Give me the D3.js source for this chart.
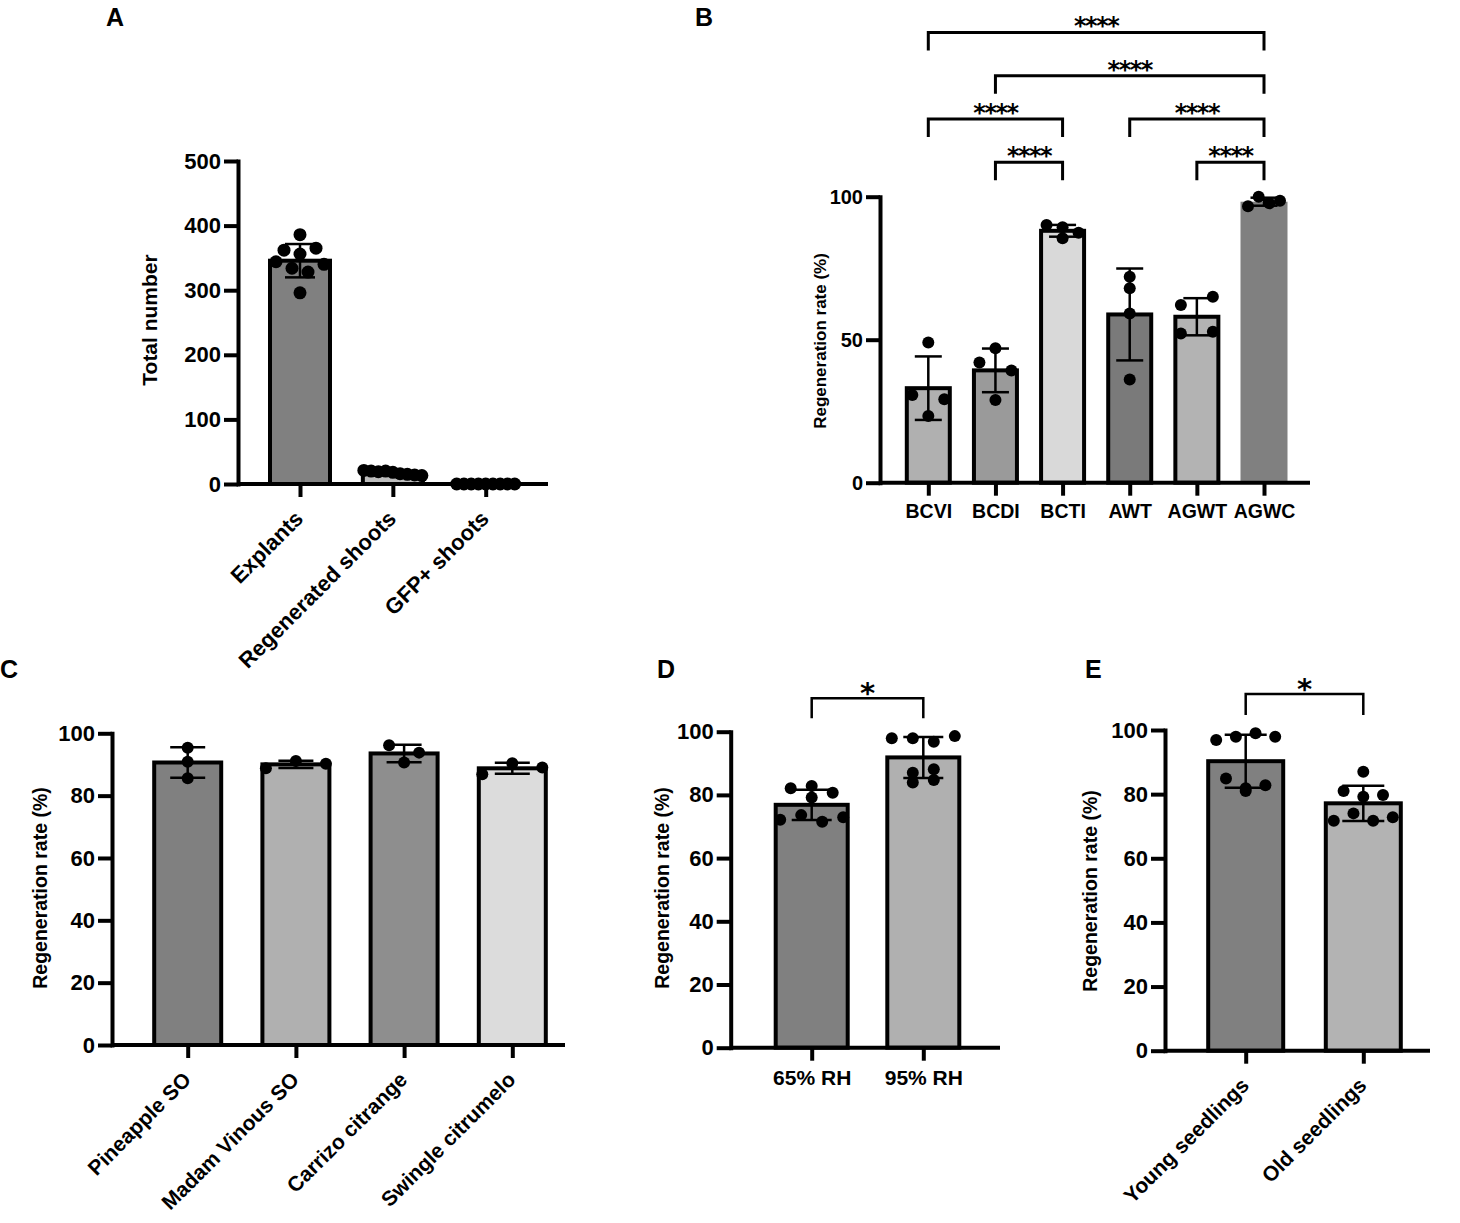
<!DOCTYPE html>
<html>
<head>
<meta charset="utf-8">
<script src="https://cdn.jsdelivr.net/npm/d3@7"></script>
<style>
  body { margin: 0; background: #fff; }
  text { font-family: "Liberation Sans", Arial, sans-serif; }
</style>
</head>
<body>
<div id="fig"></div>
<script>
// panel A - totals
var aCats = ["Explants", "Regenerated shoots", "GFP+ shoots"];
var aExplants = [386, 362, 356, 365, 344, 334, 328, 340, 296];
var aRegenerated = [21, 20, 19, 20, 18, 16, 15, 14, 13];
var aGfp = [0, 0, 0, 0, 0, 0, 0, 0, 0];
var aTicks = [0, 100, 200, 300, 400, 500];

// panel B - treatments
var bCats = ["BCVI", "BCDI", "BCTI", "AWT", "AGWT", "AGWC"];
var bBCVI = [49, 30.7, 29.2, 23.3];
var bBCDI = [47, 42, 39.2, 28.9];
var bBCTI = [90.1, 89.3, 87.4, 85.5];
var bAWT = [72, 68, 59.2, 36.1];
var bAGWT = [62.1, 65, 52.2, 52.8];
var bAGWC = [96.7, 100, 97.7, 98.6];
var bTicks = [0, 50, 100];
var bComparisons = [
  ["BCDI", "BCTI", "****"],
  ["AGWT", "AGWC", "****"],
  ["BCVI", "BCTI", "****"],
  ["AWT", "AGWC", "****"],
  ["BCDI", "AGWC", "****"],
  ["BCVI", "AGWC", "****"]
];

// panel C - genotypes
var cCats = ["Pineapple SO", "Madam Vinous SO", "Carrizo citrange", "Swingle citrumelo"];
var cPineapple = [95.4, 90.9, 85.6];
var cMadam = [88.8, 91.1, 90.2];
var cCarrizo = [96.2, 93.8, 90.6];
var cSwingle = [86.9, 90.4, 89];

// panel D - humidity
var dCats = ["65% RH", "95% RH"];
var d65 = [82.1, 82.8, 80.7, 79.2, 72.1, 73.6, 71.5, 72.9];
var d95 = [97.9, 97.9, 96.8, 98.6, 87, 88.1, 83.9, 84.7];
var dComparisons = [["65% RH", "95% RH", "*"]];

// panel E - seedling age
var eCats = ["Young seedlings", "Old seedlings"];
var eYoung = [96.9, 97.9, 99, 97.9, 84.9, 81, 81.8, 82.8];
var eOld = [87, 81, 79.2, 79.7, 71.7, 74, 71.7, 72.8];
var eComparisons = [["Young seedlings", "Old seedlings", "*"]];

var pctTicks = [0, 20, 40, 60, 80, 100];

var svg = d3.select("#fig").append("svg")
    .attr("width", 1460)
    .attr("height", 1223);

// spread points of one group sideways, graphpad style (rows of similar values)
function swarm(vals, y, p) {
  var order = d3.range(vals.length).sort(function(a, b) { return vals[b] - vals[a]; });
  var rows = [], cur = null;
  order.forEach(function(i) {
    var py = y(vals[i]);
    if (cur && py - cur.start < p.rowH) cur.members.push(i);
    else { cur = {start: py, members: [i]}; rows.push(cur); }
  });
  var off = [];
  rows.forEach(function(row) {
    var m = row.members.sort(d3.ascending), n = m.length;
    var sp = n > 1 ? Math.min(p.maxSpacing, p.maxSpread / (n - 1)) : 0;
    m.forEach(function(i, k) { off[i] = (k - (n - 1) / 2) * sp; });
  });
  return off;
}

function drawPanel(p) {
  var g = svg.append("g");
  var y = d3.scaleLinear().domain([0, p.yMax]).range([p.y0, p.yTop]);
  var x = d3.scalePoint().domain(p.cats).range([p.xFirst, p.xLast]);

  var rows = p.cats.map(function(c, i) {
    var vals = p.groups[i];
    return {
      cat: c, vals: vals,
      mean: d3.mean(vals),
      sd: d3.deviation(vals) || 0,
      fill: p.fills[i],
      outline: !(p.noStroke && p.noStroke.indexOf(i) >= 0)
    };
  });

  // bars
  g.selectAll(".bar")
    .data(rows)
    .enter().append("rect")
    .attr("x", function(d) { return x(d.cat) - p.barW / 2 - (d.outline ? 0 : 2); })
    .attr("y", function(d) { return y(d.mean); })
    .attr("width", function(d) { return p.barW + (d.outline ? 0 : 4); })
    .attr("height", function(d) { return y(0) - y(d.mean); })
    .attr("fill", function(d) { return d.fill; })
    .attr("stroke", function(d) { return d.outline ? "#000" : "none"; })
    .attr("stroke-width", 4);

  // error bars (mean +/- SD)
  var err = g.selectAll(".err")
    .data(rows)
    .enter().append("g")
    .attr("stroke", "#000")
    .attr("stroke-width", 2.5);
  err.append("line")
    .attr("x1", function(d) { return x(d.cat); })
    .attr("x2", function(d) { return x(d.cat); })
    .attr("y1", function(d) { return y(d.mean + d.sd); })
    .attr("y2", function(d) { return y(d.mean - d.sd); });
  [1, -1].forEach(function(s) {
    err.append("line")
      .attr("x1", function(d) { return x(d.cat) - p.capW / 2; })
      .attr("x2", function(d) { return x(d.cat) + p.capW / 2; })
      .attr("y1", function(d) { return y(d.mean + s * d.sd); })
      .attr("y2", function(d) { return y(d.mean + s * d.sd); });
  });

  // y axis
  var ya = g.append("g")
    .attr("transform", "translate(" + p.axisX + ",0)")
    .call(d3.axisLeft(y).tickValues(p.ticks).tickSize(14).tickSizeOuter(0).tickPadding(3));
  ya.select(".domain").attr("stroke-width", 4).attr("stroke-linecap", "square");
  ya.selectAll(".tick line").attr("stroke-width", 4);
  ya.selectAll(".tick text")
    .style("font-size", p.tickFont + "px")
    .style("font-weight", "bold")
    .attr("fill", "#000");

  // x axis
  g.append("line")
    .attr("x1", p.axisX).attr("x2", p.axisEnd)
    .attr("y1", p.y0).attr("y2", p.y0)
    .attr("stroke", "#000").attr("stroke-width", 4);
  var xa = g.append("g")
    .attr("transform", "translate(0," + p.y0 + ")")
    .call(d3.axisBottom(x).tickSize(13).tickSizeOuter(0).tickPadding(p.xPad || 9));
  xa.select(".domain").remove();
  xa.selectAll(".tick line").attr("stroke-width", 4);
  var xt = xa.selectAll(".tick text")
    .style("font-size", p.xFont + "px")
    .style("font-weight", "bold")
    .attr("fill", "#000");
  if (p.rotate) {
    xt.attr("x", 0).attr("y", 0).attr("dy", null)
      .attr("transform", "translate(4,36) rotate(-45)")
      .style("text-anchor", "end");
  }

  // points
  rows.forEach(function(d) {
    var off = swarm(d.vals, y, p);
    g.selectAll(null)
      .data(d.vals)
      .enter().append("circle")
      .attr("cx", function(v, i) { return x(d.cat) + off[i]; })
      .attr("cy", function(v) { return y(v); })
      .attr("r", p.r)
      .attr("fill", "#000");
  });

  // significance brackets, stacked by span
  if (p.comps) {
    var placed = [];
    var comps = p.comps.map(function(c) {
      return {i1: p.cats.indexOf(c[0]), i2: p.cats.indexOf(c[1]), label: c[2]};
    }).sort(function(a, b) { return (a.i2 - a.i1) - (b.i2 - b.i1); });
    comps.forEach(function(c) {
      var lvl = 0;
      placed.forEach(function(q) {
        if (c.i1 <= q.i2 && q.i1 <= c.i2) lvl = Math.max(lvl, q.level + 1);
      });
      c.level = lvl;
      placed.push(c);
    });
    comps.forEach(function(c) {
      var x1 = x(p.cats[c.i1]), x2 = x(p.cats[c.i2]);
      var ly = y(p.yMax) - p.bracketGap - c.level * p.bracketStep;
      g.append("path")
        .attr("d", "M" + x1 + "," + (ly + p.legLen) + "V" + ly + "H" + x2 + "V" + (ly + p.legLen))
        .attr("fill", "none")
        .attr("stroke", "#000")
        .attr("stroke-width", p.bracketW || 3);
      g.append("text")
        .attr("x", (x1 + x2) / 2)
        .attr("y", ly + p.starDy)
        .attr("text-anchor", "middle")
        .style("font-family", "'DejaVu Sans', sans-serif")
        .style("font-size", p.starFont + "px")
        .style("font-weight", "bold")
        .style("letter-spacing", (p.starSpacing || 0) + "px")
        .text(c.label);
    });
  }

  // y title
  g.append("text")
    .attr("transform", "translate(" + p.titleX + "," + p.titleY + ") rotate(-90)")
    .attr("text-anchor", "middle")
    .attr("dy", "0.35em")
    .style("font-size", p.titleFont + "px")
    .style("font-weight", "bold")
    .text(p.title);

  // panel letter
  g.append("text")
    .attr("x", p.letterX).attr("y", p.letterY)
    .style("font-size", "25px")
    .style("font-weight", "bold")
    .text(p.letter);
}

drawPanel({
  letter: "A", letterX: 106, letterY: 26,
  cats: aCats, groups: [aExplants, aRegenerated, aGfp], ticks: aTicks, yMax: 500,
  axisX: 238, axisEnd: 548, y0: 484, yTop: 161, xFirst: 300, xLast: 485.7,
  barW: 60, capW: 30, r: 6.5, rowH: 13, maxSpread: 58, maxSpacing: 16,
  fills: ["#808080", "#bdbdbd", "#d4d4d4"],
  tickFont: 22, xFont: 22, rotate: true,
  title: "Total number", titleX: 150, titleY: 320, titleFont: 21
});

drawPanel({
  letter: "B", letterX: 695, letterY: 26,
  cats: bCats, groups: [bBCVI, bBCDI, bBCTI, bAWT, bAGWT, bAGWC], ticks: bTicks, yMax: 100,
  axisX: 880, axisEnd: 1310, y0: 482.7, yTop: 196.7, xFirst: 928.3, xLast: 1264,
  barW: 43, capW: 27, r: 6, rowH: 11, maxSpread: 32, maxSpacing: 32,
  fills: ["#b0b0b0", "#9a9a9a", "#d9d9d9", "#7a7a7a", "#b3b3b3", "#808080"], noStroke: [5],
  tickFont: 20, xFont: 19.5, xPad: 8,
  comps: bComparisons, bracketGap: 34.4, bracketStep: 43.3, legLen: 18,
  starFont: 24, starSpacing: -1.5, starDy: 2,
  title: "Regeneration rate (%)", titleX: 820, titleY: 341, titleFont: 17
});

drawPanel({
  letter: "C", letterX: 0, letterY: 678,
  cats: cCats, groups: [cPineapple, cMadam, cCarrizo, cSwingle], ticks: pctTicks, yMax: 100,
  axisX: 112, axisEnd: 565, y0: 1045, yTop: 733.3, xFirst: 187.7, xLast: 512.3,
  barW: 67, capW: 35, r: 6, rowH: 12, maxSpread: 60, maxSpacing: 30,
  fills: ["#808080", "#b0b0b0", "#8e8e8e", "#dcdcdc"],
  tickFont: 22, xFont: 21, rotate: true,
  title: "Regeneration rate (%)", titleX: 40, titleY: 888, titleFont: 19.5
});

drawPanel({
  letter: "D", letterX: 657, letterY: 678,
  cats: dCats, groups: [d65, d95], ticks: pctTicks, yMax: 100,
  axisX: 730.7, axisEnd: 1000, y0: 1047.7, yTop: 731.7, xFirst: 811.7, xLast: 923.3,
  barW: 72, capW: 40, r: 6, rowH: 10, maxSpread: 63, maxSpacing: 21,
  fills: ["#808080", "#b0b0b0"],
  tickFont: 22, xFont: 21, xPad: 9,
  comps: dComparisons, bracketGap: 33.4, bracketStep: 40, legLen: 20,
  starFont: 29, starDy: 5, bracketW: 2.5,
  title: "Regeneration rate (%)", titleX: 662, titleY: 888, titleFont: 19.5
});

drawPanel({
  letter: "E", letterX: 1085, letterY: 678,
  cats: eCats, groups: [eYoung, eOld], ticks: pctTicks, yMax: 100,
  axisX: 1165, axisEnd: 1430, y0: 1050.7, yTop: 730, xFirst: 1245.7, xLast: 1363.3,
  barW: 75, capW: 42, r: 6, rowH: 12, maxSpread: 59, maxSpacing: 19.7,
  fills: ["#808080", "#b3b3b3"],
  tickFont: 22, xFont: 21, rotate: true,
  comps: eComparisons, bracketGap: 36, bracketStep: 40, legLen: 21,
  starFont: 29, starDy: 5, bracketW: 2.5,
  title: "Regeneration rate (%)", titleX: 1090, titleY: 891, titleFont: 19.5
});
</script>
</body>
</html>
